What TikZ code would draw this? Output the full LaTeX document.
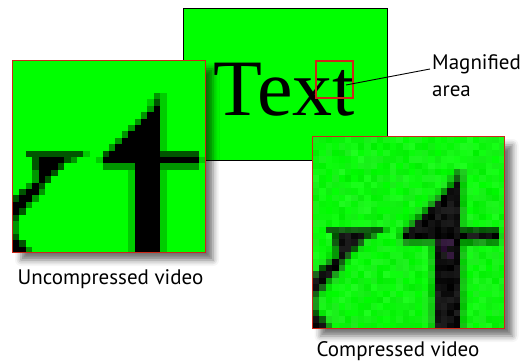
\documentclass[tikz,border=0pt]{standalone}
\usepackage{fontspec}
\setmainfont{PT Sans}
\newfontfamily\timesf{Liberation Serif}
\usetikzlibrary{shadows.blur}
\definecolor{vgreen}{RGB}{0,255,0}
\definecolor{dk}{RGB}{0,85,0}
\definecolor{md}{RGB}{0,150,0}
\definecolor{lt}{RGB}{0,205,0}
\definecolor{boxred}{RGB}{205,40,25}
\definecolor{purp}{RGB}{30,0,40}
\newcommand\lblfont{\fontsize{21}{26.7}\selectfont}
\newcommand\cellfill[4]{\foreach \cc in {#3,...,#4} {\fill[#1] (\cc*6.4,#2*6.4) rectangle ++(6.4,6.4);}}
\newcommand\glyphfringe{%
  \foreach \cl/\r/\a/\b in {dk/14/2/10, lt/14/11/11, dk/15/3/3, dk/15/8/8, md/15/9/9, dk/16/3/3, dk/16/7/7,
    md/17/3/3, dk/17/6/6, md/18/3/3, dk/18/5/5, md/19/2/2, dk/19/4/4, dk/20/1/1, md/20/4/4, dk/21/0/0,
    md/21/3/3, md/22/2/2, dk/23/1/1, dk/24/0/0, md/25/0/0, md/26/0/0, dk/27/0/0, dk/28/1/1, md/29/2/2,
    md/5/22/22, lt/5/23/23, dk/6/22/22, lt/6/21/21, lt/6/23/23, md/7/21/21, lt/7/23/23, md/8/20/20, lt/8/23/23,
    md/9/19/19, lt/9/23/23, md/10/18/18, lt/10/23/23, md/11/17/17, lt/11/23/23, md/12/16/16, lt/12/23/23,
    md/13/15/15, lt/13/23/23, dk/14/14/14, dk/14/23/28, lt/15/13/13, lt/15/29/29, md/16/14/18, md/16/23/28}
    {\cellfill{\cl}{\r}{\a}{\b}}
  \foreach \r in {17,...,29} {\cellfill{lt}{\r}{18}{18}\cellfill{lt}{\r}{23}{23}}}
\newcommand\blackspans{15/4/7,16/4/6,17/4/5,18/4/4,19/3/3,20/2/3,21/1/2,22/0/1,23/0/0,28/0/0,29/0/1,
    7/22/22,8/21/22,9/20/22,10/19/22,11/18/22,12/17/22,13/16/22,14/15/22,15/14/28,
    16/19/22,17/19/22,18/19/22,19/19/22,20/19/22,21/19/22,22/19/22,23/19/22,24/19/22,25/19/22,
    26/19/22,27/19/22,28/19/22,29/19/22}
\newcommand\glyphblack{%
  \foreach \r/\a/\b in \blackspans {\cellfill{black}{\r}{\a}{\b}}}
\tikzset{
  pixbox/.style={fill=vgreen, inner sep=0pt, minimum width=192pt, minimum height=191pt,
    blur shadow={shadow xshift=8pt, shadow yshift=-8pt, shadow blur radius=6pt, shadow opacity=55}},
  redline/.style={draw=boxred, line width=1.3pt},
  lbl/.style={font=\lblfont, inner sep=0pt, align=left}
}
\begin{document}
\begin{tikzpicture}[x=1pt,y=-1pt]
\useasboundingbox (0,0) rectangle (525,362);
% top picture
\node[fill=vgreen, draw=black, line width=1pt, inner sep=0pt, minimum width=204pt, minimum height=152pt] (top) at (285,84) {};
\node[font=\timesf\fontsize{80}{80}\selectfont, inner sep=0pt, anchor=base west] (txt) at (213.5,115) {Text};
\node[redline, inner sep=0pt, minimum width=37pt, minimum height=37pt] (mag) at (334.5,79.5) {};
\coordinate (magpt) at (346,85);
\node[lbl, anchor=base west] (maglbl) at (432,96.5) {Magnified\\area};
\coordinate (lblpt) at (430,69);
\draw[line width=0.9pt] (magpt) -- (lblpt);
% uncompressed
\node[pixbox] (unc) at (109,156.5) {};
\begin{scope}[shift={(13,61)}]
  \clip (0,0) rectangle (192,191);
  \glyphfringe
  \glyphblack
\end{scope}
\draw[redline] (unc.north west) rectangle (unc.south east);
\node[lbl, anchor=base west] (unclbl) at (17.5,284.5) {Uncompressed video};
% compressed
\node[pixbox] (cmp) at (408.5,232.5) {};
\begin{scope}[shift={(313,137)}]
  \clip (0,0) rectangle (191,191);
  \foreach \r/\a/\b in \blackspans {\fill[dk, opacity=0.11] (\a*6.4-6.4,\r*6.4-6.4) rectangle (\b*6.4+12.8,\r*6.4+12.8);}
  \glyphfringe
  \glyphblack
  \cellfill{purp}{16}{20}{21}
  \cellfill{purp}{17}{20}{20}
  \cellfill{purp}{18}{21}{21}
  \pgfmathsetseed{11}
  \foreach \r in {0,...,29} {\foreach \c in {0,...,29} {
    \pgfmathsetmacro\ow{rnd*0.13}
    \pgfmathsetmacro\ob{rnd*0.07}
    \fill[white, opacity=\ow] (\c*6.4,\r*6.4) rectangle ++(6.4,6.4);
    \fill[black, opacity=\ob] (\c*6.4,\r*6.4) rectangle ++(6.4,6.4);}}
\end{scope}
\draw[redline] (cmp.north west) rectangle (cmp.south east);
\node[lbl, anchor=base west] (cmplbl) at (316.5,356.5) {Compressed video};
\end{tikzpicture}
\end{document}
